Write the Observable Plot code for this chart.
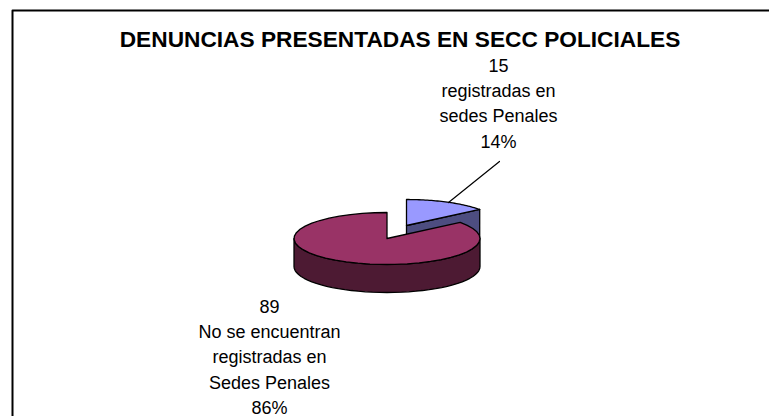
<!DOCTYPE html>
<html><head><meta charset="utf-8">
<style>html,body{margin:0;padding:0;background:#fff}svg{display:block}</style>
<script src="https://cdn.jsdelivr.net/npm/d3@7"></script>
<script src="https://cdn.jsdelivr.net/npm/@observablehq/plot@0.6"></script>
</head><body><script>
const title = "DENUNCIAS PRESENTADAS EN SECC POLICIALES";
const counts = [15, 89];
const names = ["registradas en\nsedes Penales", "No se encuentran\nregistradas en\nSedes Penales"];
const percents = ["14%", "86%"];
const topColors = ["#9999ff", "#993366"];
const sideColors = ["#4d4d80", "#4d1a33"];

const W = 769, H = 416;
const RX = 93, RY = 26, DEPTH = 28;
const total = d3.sum(counts);
const split = counts[0] / total * 2 * Math.PI;
const pt = (c, a, dy = 0) => ({x: c.x + RX * Math.sin(a), y: c.y - RY * Math.cos(a) + dy});
const arc = (c, a0, a1, dy = 0) => d3.range(0, 41).map(i => pt(c, a0 + (a1 - a0) * i / 40, dy));
const closed = p => [...p, p[0]];

const cBlue = {x: 406, y: 225};
const cRed = {x: 386.5, y: 238};

const blueTop = closed([cBlue, ...arc(cBlue, 0, split)]);
const e = pt(cBlue, split);
const blueSide = closed([cBlue, e, {x: e.x, y: e.y + DEPTH}, {x: cBlue.x, y: cBlue.y + DEPTH}]);
const redSide = closed([...arc(cRed, Math.PI / 2, 3 * Math.PI / 2), ...arc(cRed, 3 * Math.PI / 2, Math.PI / 2, DEPTH)]);
const redTop = closed([cRed, ...arc(cRed, split, 2 * Math.PI)]);
const shape = (d, fill) => Plot.line(d, {x: "x", y: "y", fill, stroke: "#000", strokeWidth: 1.3, curve: "linear"});
const label = (i, x, y) => Plot.text([i], {x: () => x, y: () => y, text: () => `${counts[i]}\n${names[i]}\n${percents[i]}`, lineAnchor: "top", lineHeight: 1.41, fontSize: 18, fontFamily: "Liberation Sans", fill: "#000"});

const chart = Plot.plot({
  width: W, height: H, margin: 0,
  x: {domain: [0, W], range: [0, W], axis: null},
  y: {domain: [0, H], range: [0, H], axis: null},
  marks: [
    Plot.line([{x: 12, y: H}, {x: 12, y: 10}, {x: W, y: 10}], {x: "x", y: "y", stroke: "#000", strokeWidth: 2}),
    shape(blueSide, sideColors[0]),
    shape(blueTop, topColors[0]),
    shape(redSide, sideColors[1]),
    shape(redTop, topColors[1]),
    Plot.line([{x: 448, y: 202}, {x: 499, y: 161}], {x: "x", y: "y", stroke: "#000", strokeWidth: 1.2}),
    Plot.text([title], {x: () => 399.5, y: () => 39, text: d => d, fontSize: 22.7, fontWeight: 700, fontFamily: "Liberation Sans", fill: "#000"}),
    label(0, 498, 53),
    label(1, 269, 294)
  ]
});
document.body.appendChild(chart);
</script></body></html>
